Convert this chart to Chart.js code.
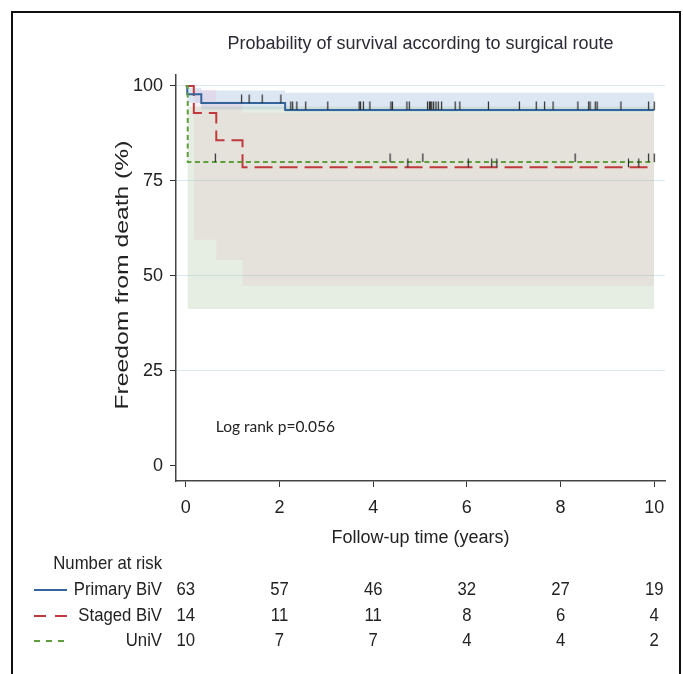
<!DOCTYPE html>
<html>
<head>
<meta charset="utf-8">
<script src="https://cdn.jsdelivr.net/npm/chart.js@4.4.1/dist/chart.umd.min.js"></script>
<style>
  body { margin: 0; background: #fff; }
  #wrap { position: relative; width: 683px; height: 674px; overflow: hidden; }
  #frame { position: absolute; left: 11px; top: 11px; width: 666px; height: 700px; border: 2px solid #111; }
  canvas { position: absolute; left: 0; top: 0; }
</style>
</head>
<body>
<div id="wrap">
  <div id="frame"></div>
  <canvas id="km" width="683" height="674"></canvas>
</div>
<script>
'use strict';
const sans = "'Liberation Sans', Arial, sans-serif";

const yearTicks = [0, 2, 4, 6, 8, 10];
const pctTicks = [0, 25, 50, 75, 100];
const groups = ['Primary BiV', 'Staged BiV', 'UniV'];

// number at risk at each year tick
const riskPrimary = [63, 57, 46, 32, 27, 19];
const riskStaged = [14, 11, 11, 8, 6, 4];
const riskUniv = [10, 7, 7, 4, 4, 2];

// step curves (time in years, freedom from death %)
const primaryTime = [0, 0.03, 0.33, 2.12, 10];
const primarySurv = [100, 97.8, 95.5, 93.7, 93.7];
const primaryLow = [100, 95.5, 93.8, 93.2, 93.2];
const primaryHigh = [100, 99.5, 98.8, 98.2, 98.2];

const stagedTime = [0, 0.17, 0.65, 1.21, 10];
const stagedSurv = [100, 92.9, 85.7, 78.6, 78.6];
const stagedLow = [100, 59.5, 54.2, 47.4, 47.4];
const stagedHigh = [100, 99, 96, 93, 93];

const univTime = [0, 0.04, 10];
const univSurv = [100, 80, 80];
const univLow = [100, 41.3, 41.3];
const univHigh = [100, 94.6, 94.6];

// censored observations
const primaryCensor = [1.19, 1.35, 1.63, 2.03, 2.24, 2.28, 2.37, 2.56, 3.03, 3.70, 3.73, 3.79, 3.93,
  4.38, 4.41, 4.72, 4.77, 5.16, 5.20, 5.22, 5.25, 5.29, 5.34, 5.39, 5.46, 5.75, 5.85, 6.46, 7.12,
  7.48, 7.66, 7.84, 8.37, 8.60, 8.63, 8.74, 8.78, 9.29, 9.88, 10.0];
const stagedCensor = [4.74, 6.03, 6.53, 6.64, 9.45, 9.67];
const univCensor = [0.63, 4.36, 5.06, 8.31, 9.88, 10.0];

const blue = '#33649c';
const red = '#c0393d';
const green = '#5e9e3c';

function pts(t, v) {
  return t.map((x, i) => ({ x: x, y: v[i] }));
}

function stepAt(t, v, at) {
  let y = v[0];
  for (let i = 0; i < t.length; i++) {
    if (t[i] <= at) y = v[i];
  }
  return y;
}

function censorPts(c, t, v) {
  return c.map(x => ({ x: x, y: stepAt(t, v, x) }));
}

// little upward tick used for censored times
function tickMark() {
  const c = document.createElement('canvas');
  c.width = 3;
  c.height = 18;
  const g = c.getContext('2d');
  g.strokeStyle = '#2a2a2a';
  g.lineWidth = 1.2;
  g.beginPath();
  g.moveTo(1.5, 0.5);
  g.lineTo(1.5, 9);
  g.stroke();
  return c;
}
const tick = tickMark();

function band(t, lo, hi, color) {
  return [
    { data: pts(t, lo), stepped: 'before', borderWidth: 0, borderColor: 'transparent', pointRadius: 0, fill: false, order: 5 },
    { data: pts(t, hi), stepped: 'before', borderWidth: 0, borderColor: 'transparent', pointRadius: 0, fill: '-1', backgroundColor: color, order: 5 }
  ];
}

const datasets = [].concat(
  band(univTime, univLow, univHigh, 'rgba(150,185,140,0.24)'),
  band(stagedTime, stagedLow, stagedHigh, 'rgba(230,120,170,0.12)'),
  band(primaryTime, primaryLow, primaryHigh, 'rgba(120,160,210,0.25)'),
  [
    { label: groups[0], data: pts(primaryTime, primarySurv), stepped: 'before', borderColor: blue, borderWidth: 2, pointRadius: 0, fill: false, order: 2 },
    { label: groups[1], data: pts(stagedTime, stagedSurv), stepped: 'before', borderColor: red, borderWidth: 2, borderDash: [18, 7], pointRadius: 0, fill: false, order: 2 },
    { label: groups[2], data: pts(univTime, univSurv), stepped: 'before', borderColor: green, borderWidth: 2, borderDash: [5, 3.5], pointRadius: 0, fill: false, order: 1 },
    { type: 'scatter', data: censorPts(primaryCensor, primaryTime, primarySurv), pointStyle: tick, pointRadius: 3, order: 0 },
    { type: 'scatter', data: censorPts(stagedCensor, stagedTime, stagedSurv), pointStyle: tick, pointRadius: 3, order: 0 },
    { type: 'scatter', data: censorPts(univCensor, univTime, univSurv), pointStyle: tick, pointRadius: 3, order: 0 }
  ]
);

// text squeezed or stretched along its baseline
function squeezeText(ctx, text, x, y, align, sx, angle) {
  ctx.save();
  ctx.translate(x, y);
  if (angle) ctx.rotate(angle);
  ctx.scale(sx, 1);
  ctx.textAlign = align;
  ctx.fillText(text, 0, 0);
  ctx.restore();
}

// y title, number at risk table, log rank note
const riskTable = {
  id: 'riskTable',
  afterDraw(chart) {
    const ctx = chart.ctx;
    const x = chart.scales.x;
    const y = chart.scales.y;
    ctx.save();
    ctx.fillStyle = '#222';
    ctx.textBaseline = 'middle';

    ctx.font = '19px ' + sans;
    squeezeText(ctx, 'Freedom from death (%)', 123, 275, 'center', 1.3, -Math.PI / 2);

    ctx.font = '15.5px Lato, "Open Sans", sans-serif';
    squeezeText(ctx, 'Log rank p=0.056', x.getPixelForValue(0.64), y.getPixelForValue(10.3), 'left', 1, 0);

    ctx.font = '19px ' + sans;
    squeezeText(ctx, 'Number at risk', 162, 564, 'right', 0.88, 0);

    const rows = [riskPrimary, riskStaged, riskUniv];
    const rowY = [590, 616, 641];
    const colors = [blue, red, green];
    const dashes = [[], [12, 9], [6, 6]];
    for (let r = 0; r < rows.length; r++) {
      ctx.strokeStyle = colors[r];
      ctx.lineWidth = 2;
      ctx.setLineDash(dashes[r]);
      ctx.beginPath();
      ctx.moveTo(34, rowY[r]);
      ctx.lineTo(67, rowY[r]);
      ctx.stroke();
      ctx.setLineDash([]);
      squeezeText(ctx, groups[r], 162, rowY[r], 'right', 0.88, 0);
      for (let i = 0; i < yearTicks.length; i++) {
        squeezeText(ctx, String(rows[r][i]), x.getPixelForValue(yearTicks[i]), rowY[r], 'center', 0.88, 0);
      }
    }
    ctx.restore();
  }
};

new Chart(document.getElementById('km'), {
  type: 'line',
  data: { datasets: datasets },
  options: {
    responsive: false,
    animation: false,
    events: [],
    layout: { padding: { left: 0, right: 18, top: 0, bottom: 0 } },
    plugins: {
      legend: { display: false },
      tooltip: { enabled: false },
      title: {
        display: true,
        text: 'Probability of survival according to surgical route',
        fullSize: false,
        color: '#2b2b35',
        font: { family: sans, size: 18, weight: 'normal' },
        padding: { top: 33, bottom: 20 }
      }
    },
    scales: {
      x: {
        type: 'linear',
        min: -0.21,
        max: 10.23,
        afterBuildTicks: s => { s.ticks = yearTicks.map(v => ({ value: v })); },
        afterFit: s => { s.height = 193; },
        grid: { drawOnChartArea: false, tickColor: '#333', tickLength: 6 },
        border: { display: true, color: '#444', width: 1.5 },
        ticks: { color: '#222', font: { family: sans, size: 18 }, padding: 10, maxRotation: 0 },
        title: {
          display: true,
          text: 'Follow-up time (years)',
          color: '#222',
          font: { family: sans, size: 18 },
          padding: { top: 0, bottom: 125 }
        }
      },
      y: {
        type: 'linear',
        min: -4,
        max: 103,
        afterBuildTicks: s => { s.ticks = pctTicks.map(v => ({ value: v })); },
        afterFit: s => { s.width = 176; },
        grid: {
          color: c => (c.tick && c.tick.value === 0 ? 'transparent' : '#dbe9ef'),
          tickColor: '#333',
          tickLength: 6
        },
        border: { display: true, color: '#444', width: 1.5 },
        ticks: { color: '#222', font: { family: sans, size: 18 }, padding: 7 }
      }
    }
  },
  plugins: [riskTable]
});
</script>
</body>
</html>
